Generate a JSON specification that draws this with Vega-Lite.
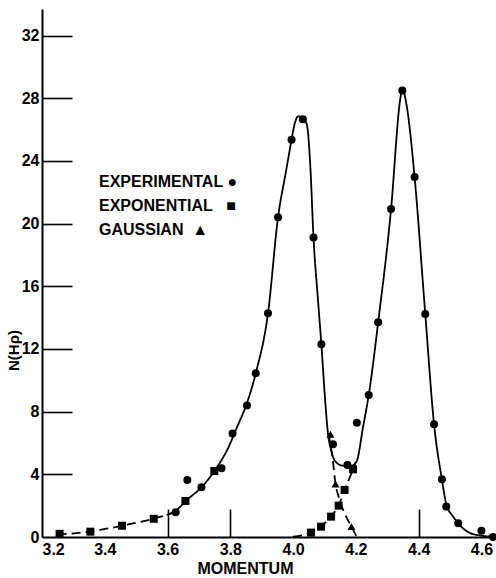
{
  "$schema": "https://vega.github.io/schema/vega-lite/v6.json",
  "width": 452,
  "height": 528,
  "autosize": {"type": "none"},
  "padding": {"left": 42, "top": 9, "right": 2, "bottom": 41},
  "background": "white",
  "config": {"view": {"stroke": null}, "font": "Liberation Sans", "axis": {"grid": false}},
  "datasets": {
    "points": [
      {"series": "EXPERIMENTAL", "momentum": 3.626, "count": 1.58},
      {"series": "EXPERIMENTAL", "momentum": 3.663, "count": 3.64},
      {"series": "EXPERIMENTAL", "momentum": 3.708, "count": 3.17},
      {"series": "EXPERIMENTAL", "momentum": 3.772, "count": 4.39},
      {"series": "EXPERIMENTAL", "momentum": 3.807, "count": 6.6},
      {"series": "EXPERIMENTAL", "momentum": 3.853, "count": 8.4},
      {"series": "EXPERIMENTAL", "momentum": 3.881, "count": 10.45},
      {"series": "EXPERIMENTAL", "momentum": 3.92, "count": 14.28},
      {"series": "EXPERIMENTAL", "momentum": 3.952, "count": 20.41},
      {"series": "EXPERIMENTAL", "momentum": 3.995, "count": 25.35},
      {"series": "EXPERIMENTAL", "momentum": 4.031, "count": 26.67},
      {"series": "EXPERIMENTAL", "momentum": 4.065, "count": 19.11},
      {"series": "EXPERIMENTAL", "momentum": 4.09, "count": 12.3},
      {"series": "EXPERIMENTAL", "momentum": 4.127, "count": 5.92},
      {"series": "EXPERIMENTAL", "momentum": 4.173, "count": 4.6},
      {"series": "EXPERIMENTAL", "momentum": 4.203, "count": 7.3},
      {"series": "EXPERIMENTAL", "momentum": 4.241, "count": 9.07},
      {"series": "EXPERIMENTAL", "momentum": 4.271, "count": 13.71},
      {"series": "EXPERIMENTAL", "momentum": 4.312, "count": 20.93},
      {"series": "EXPERIMENTAL", "momentum": 4.348, "count": 28.5},
      {"series": "EXPERIMENTAL", "momentum": 4.387, "count": 22.97},
      {"series": "EXPERIMENTAL", "momentum": 4.421, "count": 14.24},
      {"series": "EXPERIMENTAL", "momentum": 4.449, "count": 7.2},
      {"series": "EXPERIMENTAL", "momentum": 4.474, "count": 3.68},
      {"series": "EXPERIMENTAL", "momentum": 4.488, "count": 1.94},
      {"series": "EXPERIMENTAL", "momentum": 4.526, "count": 0.87},
      {"series": "EXPERIMENTAL", "momentum": 4.6, "count": 0.4},
      {"series": "EXPERIMENTAL", "momentum": 4.637, "count": 0.0},
      {"series": "EXPONENTIAL", "momentum": 3.256, "count": 0.2},
      {"series": "EXPONENTIAL", "momentum": 3.354, "count": 0.34},
      {"series": "EXPONENTIAL", "momentum": 3.455, "count": 0.72},
      {"series": "EXPONENTIAL", "momentum": 3.556, "count": 1.16},
      {"series": "EXPONENTIAL", "momentum": 3.657, "count": 2.3},
      {"series": "EXPONENTIAL", "momentum": 3.749, "count": 4.21},
      {"series": "EXPONENTIAL", "momentum": 4.057, "count": 0.28},
      {"series": "EXPONENTIAL", "momentum": 4.089, "count": 0.66},
      {"series": "EXPONENTIAL", "momentum": 4.121, "count": 1.3},
      {"series": "EXPONENTIAL", "momentum": 4.145, "count": 2.0},
      {"series": "EXPONENTIAL", "momentum": 4.164, "count": 3.0},
      {"series": "EXPONENTIAL", "momentum": 4.191, "count": 4.32},
      {"series": "GAUSSIAN", "momentum": 4.119, "count": 6.56},
      {"series": "GAUSSIAN", "momentum": 4.135, "count": 3.38},
      {"series": "GAUSSIAN", "momentum": 4.186, "count": 0.66}
    ],
    "curves": [
      {"curve": "fit", "style": "solid", "momentum": 3.597, "count": 1.4},
      {"curve": "fit", "style": "solid", "momentum": 3.63, "count": 1.75},
      {"curve": "fit", "style": "solid", "momentum": 3.661, "count": 2.36},
      {"curve": "fit", "style": "solid", "momentum": 3.708, "count": 3.17},
      {"curve": "fit", "style": "solid", "momentum": 3.749, "count": 4.21},
      {"curve": "fit", "style": "solid", "momentum": 3.79, "count": 5.56},
      {"curve": "fit", "style": "solid", "momentum": 3.822, "count": 7.04},
      {"curve": "fit", "style": "solid", "momentum": 3.853, "count": 8.55},
      {"curve": "fit", "style": "solid", "momentum": 3.881, "count": 10.45},
      {"curve": "fit", "style": "solid", "momentum": 3.92, "count": 14.28},
      {"curve": "fit", "style": "solid", "momentum": 3.952, "count": 20.41},
      {"curve": "fit", "style": "solid", "momentum": 3.977, "count": 23.3},
      {"curve": "fit", "style": "solid", "momentum": 3.995, "count": 25.35},
      {"curve": "fit", "style": "solid", "momentum": 4.004, "count": 26.3},
      {"curve": "fit", "style": "solid", "momentum": 4.016, "count": 26.85},
      {"curve": "fit", "style": "solid", "momentum": 4.031, "count": 26.75},
      {"curve": "fit", "style": "solid", "momentum": 4.044, "count": 26.3},
      {"curve": "fit", "style": "solid", "momentum": 4.055, "count": 23.6},
      {"curve": "fit", "style": "solid", "momentum": 4.065, "count": 19.1},
      {"curve": "fit", "style": "solid", "momentum": 4.079, "count": 15.2},
      {"curve": "fit", "style": "solid", "momentum": 4.09, "count": 12.3},
      {"curve": "fit", "style": "solid", "momentum": 4.102, "count": 8.75},
      {"curve": "fit", "style": "solid", "momentum": 4.111, "count": 6.62},
      {"curve": "fit", "style": "solid", "momentum": 4.121, "count": 5.56},
      {"curve": "fit", "style": "solid", "momentum": 4.135, "count": 4.81},
      {"curve": "fit", "style": "solid", "momentum": 4.159, "count": 4.55},
      {"curve": "fit", "style": "solid", "momentum": 4.186, "count": 4.55},
      {"curve": "fit", "style": "solid", "momentum": 4.202, "count": 4.81},
      {"curve": "fit", "style": "solid", "momentum": 4.223, "count": 7.04},
      {"curve": "fit", "style": "solid", "momentum": 4.241, "count": 9.07},
      {"curve": "fit", "style": "solid", "momentum": 4.271, "count": 13.71},
      {"curve": "fit", "style": "solid", "momentum": 4.312, "count": 20.93},
      {"curve": "fit", "style": "solid", "momentum": 4.341, "count": 27.9},
      {"curve": "fit", "style": "solid", "momentum": 4.348, "count": 28.6},
      {"curve": "fit", "style": "solid", "momentum": 4.362, "count": 27.5},
      {"curve": "fit", "style": "solid", "momentum": 4.387, "count": 22.97},
      {"curve": "fit", "style": "solid", "momentum": 4.421, "count": 14.24},
      {"curve": "fit", "style": "solid", "momentum": 4.449, "count": 7.2},
      {"curve": "fit", "style": "solid", "momentum": 4.474, "count": 3.68},
      {"curve": "fit", "style": "solid", "momentum": 4.488, "count": 2.1},
      {"curve": "fit", "style": "solid", "momentum": 4.51, "count": 1.3},
      {"curve": "fit", "style": "solid", "momentum": 4.526, "count": 0.87},
      {"curve": "fit", "style": "solid", "momentum": 4.571, "count": 0.2},
      {"curve": "fit", "style": "solid", "momentum": 4.635, "count": 0.02},
      {"curve": "exp1", "style": "dashed", "momentum": 3.25, "count": 0.15},
      {"curve": "exp1", "style": "dashed", "momentum": 3.354, "count": 0.35},
      {"curve": "exp1", "style": "dashed", "momentum": 3.455, "count": 0.72},
      {"curve": "exp1", "style": "dashed", "momentum": 3.556, "count": 1.17},
      {"curve": "exp1", "style": "dashed", "momentum": 3.6, "count": 1.42},
      {"curve": "exp1", "style": "dashed", "momentum": 3.625, "count": 1.6},
      {"curve": "exp2", "style": "dashed", "momentum": 4.0, "count": 0.02},
      {"curve": "exp2", "style": "dashed", "momentum": 4.03, "count": 0.12},
      {"curve": "exp2", "style": "dashed", "momentum": 4.057, "count": 0.3},
      {"curve": "exp2", "style": "dashed", "momentum": 4.089, "count": 0.68},
      {"curve": "exp2", "style": "dashed", "momentum": 4.121, "count": 1.32},
      {"curve": "exp2", "style": "dashed", "momentum": 4.145, "count": 2.0},
      {"curve": "exp2", "style": "dashed", "momentum": 4.164, "count": 3.0},
      {"curve": "exp2", "style": "dashed", "momentum": 4.191, "count": 4.32},
      {"curve": "exp2", "style": "dashed", "momentum": 4.2, "count": 4.8},
      {"curve": "gauss", "style": "dashed", "momentum": 4.113, "count": 6.6},
      {"curve": "gauss", "style": "dashed", "momentum": 4.127, "count": 4.8},
      {"curve": "gauss", "style": "dashed", "momentum": 4.135, "count": 3.4},
      {"curve": "gauss", "style": "dashed", "momentum": 4.145, "count": 2.57},
      {"curve": "gauss", "style": "dashed", "momentum": 4.164, "count": 1.51},
      {"curve": "gauss", "style": "dashed", "momentum": 4.186, "count": 0.66},
      {"curve": "gauss", "style": "dashed", "momentum": 4.203, "count": 0.0}
    ]
  },
  "layer": [
    {
      "data": {"name": "curves"},
      "mark": {"type": "line", "interpolate": "monotone", "strokeWidth": 1.8, "color": "black"},
      "encoding": {
        "x": {
          "field": "momentum", "type": "quantitative",
          "scale": {"domain": [3.2, 4.64], "nice": false, "zero": false},
          "axis": {"orient": "bottom", "values": [3.6, 3.8, 4.4], "labels": false, "domain": false, "ticks": true, "tickSize": -28, "tickWidth": 1.6, "tickColor": "black", "title": null, "grid": false}
        },
        "y": {
          "field": "count", "type": "quantitative",
          "scale": {"domain": [0, 33.7], "nice": false},
          "axis": {"orient": "left", "values": [4, 8, 12, 16, 20, 24, 28, 32], "labels": false, "domain": false, "ticks": true, "tickSize": -30, "tickWidth": 1.6, "tickColor": "black", "title": null, "grid": false}
        },
        "detail": {"field": "curve", "type": "nominal"},
        "strokeDash": {"field": "style", "type": "nominal", "scale": {"domain": ["solid", "dashed"], "range": [[1, 0], [9, 5]]}, "legend": null}
      }
    },
    {
      "data": {"name": "points"},
      "mark": {"type": "point", "filled": true, "size": 64, "color": "black", "opacity": 1},
      "encoding": {
        "x": {
          "field": "momentum", "type": "quantitative",
          "axis": {"orient": "bottom", "values": [3.2, 3.4, 3.6, 3.8, 4.0, 4.2, 4.4, 4.6], "format": ".1f", "ticks": false, "tickSize": 0, "domain": true, "domainColor": "black", "domainWidth": 2, "labelFont": "Liberation Sans", "labelFontSize": 16, "labelFontWeight": "bold", "labelColor": "black", "labelPadding": 4, "labelFlush": true, "title": "MOMENTUM", "titleFont": "Liberation Sans", "titleFontSize": 16, "titleFontWeight": "bold", "titleColor": "black", "titleX": 203, "titleY": 31, "titleAlign": "center", "titleBaseline": "middle"}
        },
        "y": {
          "field": "count", "type": "quantitative",
          "axis": {"orient": "left", "values": [0, 4, 8, 12, 16, 20, 24, 28, 32], "format": "d", "ticks": false, "tickSize": 0, "domain": true, "domainColor": "black", "domainWidth": 2, "labelFont": "Liberation Sans", "labelFontSize": 16, "labelFontWeight": "bold", "labelColor": "black", "labelPadding": 3, "title": "N(Hρ)", "titleFont": "Liberation Sans", "titleFontSize": 15, "titleFontWeight": "bold", "titleColor": "black", "titleAngle": 270, "titleX": -29, "titleY": 341, "titleAlign": "center", "titleBaseline": "middle"}
        },
        "shape": {
          "field": "series", "type": "nominal",
          "scale": {"domain": ["EXPERIMENTAL", "EXPONENTIAL", "GAUSSIAN"], "range": ["circle", "square", "triangle-up"]},
          "legend": {"orient": "none", "legendX": 41, "legendY": 165, "title": null, "direction": "vertical", "symbolOpacity": 0, "symbolSize": 1, "symbolStrokeWidth": 0, "labelOffset": 0, "labelFont": "Liberation Sans", "labelFontSize": 16, "labelFontWeight": "bold", "labelColor": "black", "labelLimit": 400, "rowPadding": 8, "padding": 0,
            "labelExpr": "datum.label == 'EXPERIMENTAL' ? 'EXPERIMENTAL\u00a0●' : datum.label == 'EXPONENTIAL' ? 'EXPONENTIAL\u00a0\u00a0\u00a0■' : 'GAUSSIAN\u00a0\u00a0▲'"}
        }
      }
    }
  ],
  "resolve": {"axis": {"x": "independent", "y": "independent"}}
}
